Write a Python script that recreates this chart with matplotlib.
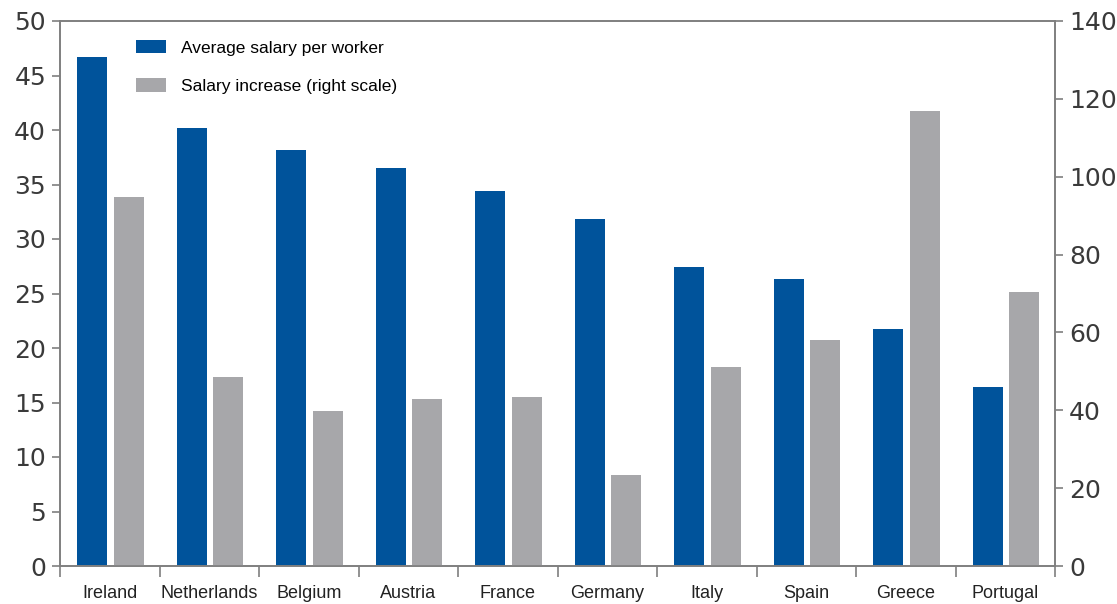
import numpy as np
import matplotlib.pyplot as plt
from matplotlib.ticker import MultipleLocator, FixedLocator, NullFormatter

# 数据
countries = ["Ireland", "Netherlands", "Belgium", "Austria", "France",
             "Germany", "Italy", "Spain", "Greece", "Portugal"]
avg_salary = [46.7, 40.2, 38.2, 36.5, 34.4, 31.8, 27.4, 26.3, 21.7, 16.4]
salary_increase = [94.7, 48.6, 39.9, 43.0, 43.5, 23.4, 51.0, 58.0, 117.0, 70.4]

label_left = "Average salary per worker"
label_right = "Salary increase (right scale)"

blue = "#00539B"
grey = "#A7A7AA"
spine_col = "#7F7F7F"
num_col = "#3A3A3A"

fig = plt.figure(figsize=(11.17, 6.04), dpi=100)
ax = fig.add_axes([60 / 1117, 1 - 566 / 604, 995 / 1117, 545 / 604])
ax2 = ax.twinx()

x = np.arange(len(countries))
w = 0.30
b1 = ax.bar(x - 0.175, avg_salary, width=w, color=blue, label=label_left)
b2 = ax2.bar(x + 0.19, salary_increase, width=w, color=grey, label=label_right)

ax.set_xlim(-0.5, len(countries) - 0.5)
ax.set_ylim(0, 50)
ax2.set_ylim(0, 140)
ax.yaxis.set_major_locator(MultipleLocator(5))
ax2.yaxis.set_major_locator(MultipleLocator(20))

# 类别标签在中心，刻度线在分界处
ax.set_xticks(x)
ax.set_xticklabels(countries, fontsize=13, color="#222222",
                   family="Liberation Sans")
ax.xaxis.set_minor_locator(FixedLocator(np.arange(-0.5, len(countries), 1.0)))
ax.xaxis.set_minor_formatter(NullFormatter())
ax.tick_params(axis="x", which="major", length=0, pad=13.5)
ax.tick_params(axis="x", which="minor", length=8, width=1.2, color=spine_col,
               direction="out")

ax.tick_params(axis="y", length=6, width=1.2, color=spine_col, pad=4,
               labelsize=18, labelcolor=num_col)
ax2.tick_params(axis="y", length=6, width=1.2, color=spine_col, pad=4,
                labelsize=18, labelcolor=num_col)

for a in (ax, ax2):
    for s in a.spines.values():
        s.set_color(spine_col)
        s.set_linewidth(1.2)

ax.legend([b1, b2], [label_left, label_right], loc="upper left",
          bbox_to_anchor=(0.0764, 0.965), frameon=False, borderpad=0,
          borderaxespad=0, handlelength=1.75, handleheight=0.8,
          handletextpad=0.85, labelspacing=1.3,
          prop={"family": "Liberation Sans", "size": 12.5})

fig.savefig("out.png", dpi=100)
